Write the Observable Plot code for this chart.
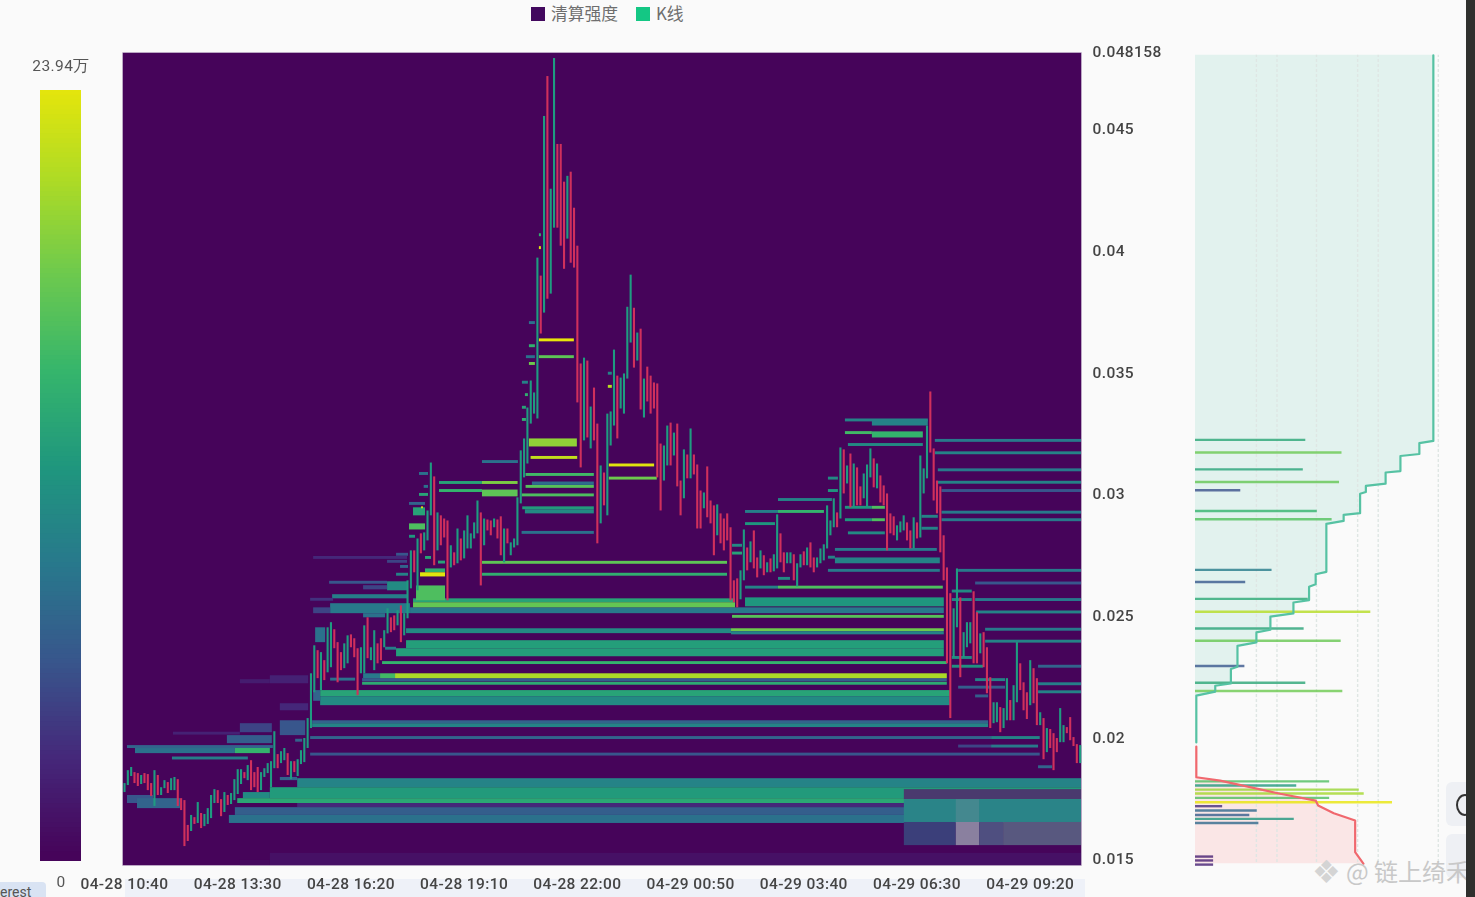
<!DOCTYPE html>
<html lang="zh">
<head>
<meta charset="utf-8">
<script src="https://cdn.jsdelivr.net/npm/d3@7"></script>
<script src="https://cdn.jsdelivr.net/npm/@observablehq/plot@0.6"></script>
<style>
html,body{margin:0;padding:0;background:#fafafa;overflow:hidden}
#page{position:relative;width:1475px;height:897px;overflow:hidden;background:#fafafa;font-family:Roboto,"Noto Sans CJK SC",sans-serif;color:#555}
#page>div{position:absolute}
#chart-holder{left:0;top:0;width:1475px;height:897px}
#side-holder{left:1195px;top:0;width:280px;height:897px}
#scale-holder{left:0;top:0;width:120px;height:897px}
#chart-holder svg,#side-holder svg,#scale-holder svg{display:block;max-width:none;filter:blur(.45px)}
.strip{background:#eef1f8;left:125px;top:879px;width:960px;height:18px}
.chip{background:#d9e3f3;left:-6px;top:882px;width:46px;height:20px;border-radius:4px;font-size:14px;padding-left:6px;line-height:21px;color:#555;overflow:hidden}
.edge{background:#2f302e;left:1466px;top:0;width:9px;height:897px}
.btn{background:#eef0f4;left:1446px;width:30px;height:44px;border-radius:6px}
.leg{font-size:16.8px;top:3px;line-height:20px;color:#6e6e6e;white-space:nowrap;font-family:"Noto Sans CJK SC",sans-serif}
.sw{width:14px;height:14px;top:7px}
.mark{left:1312px;top:854px;font-size:32px;line-height:36px;color:#d4d4d4;font-family:"DejaVu Sans",sans-serif}
.wm{left:1346px;top:856px;font-size:24px;line-height:30px;color:#c8c8c8;white-space:nowrap;font-family:"Noto Sans CJK SC",sans-serif}
</style>
</head>
<body>
<div id="page">
  <div class="strip"></div>
  <div class="chip">erest</div>
  <div id="chart-holder"></div>
  <div id="side-holder"></div>
  <div id="scale-holder"></div>
  <div class="sw" style="left:531px;background:#42085e"></div>
  <div class="leg" style="left:551px">清算强度</div>
  <div class="sw" style="left:636px;background:#14c784"></div>
  <div class="leg" style="left:656px">K线</div>
  <div class="btn" style="top:782px"></div>
  <div class="btn" style="top:834px"></div>
  <div style="left:1456px;top:794px;width:14px;height:18px;border:2px solid #333;border-radius:50%"></div>
  <div class="mark">❖</div>
  <div class="wm">@ 链上绮禾</div>
  <div class="edge"></div>
</div>
<script>
// ---- shared labels ----
const priceTicks = [0.015, 0.02, 0.025, 0.03, 0.035, 0.04, 0.045, 0.048158];
const firstCandle = Date.UTC(2025, 3, 28, 10, 40);
const candleMinutes = 5;
const timeTickCandles = [0, 34, 68, 102, 136, 170, 204, 238, 272];
const maxIntensity = 23.94; // 万

// ---- 5-minute candles, prices in 1e-5 ----
const candleHigh = [
1812,1865,1878,1857,1853,1845,1853,1849,1812,1865,1845,1795,1824,1816,1832,1837,1828,1750,1742,1640,
1681,1672,1734,1689,1685,1709,1763,1787,1783,1746,1775,1763,1771,1828,1869,1869,1857,1886,1906,1857,
1878,1857,1873,1894,1902,2025,1931,1943,1956,1935,1902,1902,1910,1947,1997,2079,2263,2378,2358,2350,
2317,2452,2473,2444,2391,2350,2386,2419,2423,2407,2366,2370,2460,2493,2370,2440,2386,2407,2440,2530,
2493,2501,2522,2542,2510,2645,2768,2768,2817,2838,2842,2932,3129,3072,2924,2912,2899,2891,2789,2760,
2858,2817,2850,2912,2838,2883,2973,2924,2899,2895,2891,2899,2895,2908,2858,2858,2801,2817,2986,3179,
3228,3355,3466,3417,3971,3897,4553,4717,4254,4791,4438,4438,4283,4307,4324,4176,4020,3536,3560,3548,
3359,3437,3289,3117,3088,3330,3339,3593,3486,3478,3495,3769,3901,3765,3663,3679,3474,3523,3486,3458,
3454,3207,3199,3281,3293,3252,3289,3055,3183,3162,3269,3162,3121,3014,3006,3113,2973,2953,2957,2920,
2899,2920,2863,2645,2653,2686,2854,2780,2805,2850,2739,2768,2748,2719,2735,2752,2916,2838,2760,2760,
2760,2752,2715,2752,2764,2780,2801,2739,2739,2776,2793,2953,2891,2982,2924,3191,3183,3117,3166,3125,
3109,3031,3084,3121,3187,3146,3125,3076,3035,3002,2920,2908,2871,2887,2912,2883,2850,2904,2883,3158,
3105,3281,3421,3187,3055,3031,2830,2698,2592,2530,2694,2575,2432,2473,2473,2600,2514,2427,2432,2370,
2247,2144,2144,2124,2120,2243,2153,2214,2391,2304,2226,2185,2317,2284,2243,2103,2079,2038,2034,2017,
1997,2120,2050,2042,2083,2001,1972,1968];
const candleLow = [
1775,1804,1841,1812,1800,1808,1812,1783,1759,1718,1763,1763,1791,1771,1783,1783,1718,1701,1553,1574,
1615,1644,1648,1627,1635,1644,1668,1730,1730,1676,1693,1722,1726,1742,1767,1808,1832,1824,1783,1795,
1775,1783,1837,1853,1795,1873,1873,1894,1906,1845,1828,1857,1841,1890,1898,1956,2038,2185,2243,2194,
2235,2267,2288,2366,2226,2276,2284,2304,2370,2329,2173,2263,2263,2325,2317,2276,2304,2317,2370,2427,
2432,2440,2460,2391,2419,2489,2612,2678,2604,2756,2768,2809,2912,2707,2768,2789,2821,2563,2698,2707,
2715,2727,2735,2776,2776,2817,2838,2624,2789,2850,2830,2863,2817,2748,2719,2797,2748,2780,2789,2961,
3068,3125,3289,3330,3310,3659,3745,3802,3823,4094,4094,4020,3925,4049,3950,3930,3376,3109,3220,3232,
3187,3220,2797,2879,2953,2912,3199,3281,3228,3351,3330,3474,3622,3519,3548,3347,3314,3380,3330,3351,
3068,2932,3055,3117,3117,3158,3031,2912,2982,3064,3064,3080,2858,2858,2941,2904,2879,2748,2830,2797,
2768,2809,2563,2555,2534,2567,2645,2686,2719,2694,2657,2694,2666,2678,2678,2682,2694,2719,2678,2715,
2715,2645,2620,2698,2707,2707,2698,2678,2698,2715,2727,2776,2830,2863,2863,2899,3002,3043,2945,2949,
2953,2953,2982,2949,3068,3027,3023,2965,2953,2768,2838,2830,2809,2842,2850,2809,2776,2776,2817,2821,
3002,3064,3170,2973,2920,2760,2645,2304,2079,2329,2452,2247,2329,2370,2386,2304,2304,2345,2288,2181,
2038,2058,2062,2021,2038,2070,2070,2070,2144,2194,2111,2075,2132,2140,2050,2050,1910,1939,1956,1865,
1939,1980,1980,2017,1988,1964,1894,1894];
const candleDirection = [
"gggrrgrrrg","rggrggrrrr","grgrggggrr","grggggrgrr","rgggggrggr","grggggggrg",
"rggrrrggrr","rggrggrrgg","rrgrgggrgr","gggrgrrrgr","grgggggrgr","rgrrgrgggg",
"gggggrgrgg","rrrgrrrrgr","grrgrgggrg","gggrgrgrrr","rrggrgrrgr","grrrgrrrgr",
"rrrrrggrgr","rgrgrggrrg","grggrgrrgg","ggggrgrgrg","rrgggrgrrr","rrgggrrgrg",
"ggrrrrrrrg","grgggrrgrr","rggrggrggr","rrgrrgrgrr","rggrrrrg"].join("");

// ---- heat bands: [first candle, last candle, high, low, intensity (万)] ----
const lowerBands = [
[43.8,287.4,1525,1475,1.0],[34.8,43.8,1496,1475,.5],
[52,287.4,1832,1795,10.1],[43.8,287.4,1795,1750,12.4],[35.7,43.8,1775,1750,10.8],[34,287.4,1750,1730,13.6],
[52,287.4,1730,1713,2.9],[33.3,287.4,1713,1681,6.7],[31.5,287.4,1681,1648,8.4],
[0.9,8.7,1763,1730,6],[3.9,16.8,1750,1709,7.2],[46.8,52,1837,1824,7.2],
[0.9,44.7,1968,1956,7.2],[3.3,33.3,1956,1935,8.4],[33.3,43.8,1956,1935,14.8],
[30.9,44.4,2009,1976,6.7],[34.8,44.4,2058,2021,4.8],[46.8,54.4,2070,2009,6],[46.8,55.3,2140,2111,2.9],
[43.8,55.3,2255,2222,2.4],[34.8,43.8,2239,2222,2]];
const middleBands = [
[56.5,259.5,2070,2058,7.2],[56.5,259.5,2058,2042,10.1],
[58.9,248,2194,2169,13.2],[58.9,248,2169,2132,10.8],[56.8,58.9,2194,2150,7.2],
[71.5,247.1,2243,2230,6.7],[71.8,76.9,2263,2243,9.1],[76.9,81.4,2263,2243,15.6],[81.4,247.1,2263,2243,20.8],
[84.7,246.2,2399,2366,12.7],[81.7,246.2,2366,2333,12.7],
[84.7,182.3,2448,2428,10.8],[182.3,246.2,2448,2436,18],[182.3,246.2,2436,2423,10],
[85.9,246.2,2534,2510,9.1],[86.8,183.5,2571,2555,13.2],[86.8,183.5,2555,2534,17.5],[186.5,246.2,2575,2538,12],
[87.7,96.4,2624,2563,16.3],[90.4,96.4,2694,2678,14.4],[88.9,96.4,2678,2661,23.5],
[79,85,2641,2604,10.8],[71.8,79,2625,2608,4.8],[62.5,85,2588,2571,9.6],[61.9,85.9,2551,2510,9.1],
[56.8,61.9,2534,2510,4.8],[71.8,78.4,2510,2493,8.4],[57.4,60.4,2452,2391,8.4]];
const upperBands = [
[120.4,141.1,2937,2920,10.8],[119.6,141.1,2949,2937,12.4],[122.5,141.1,3051,3037,7.9],[121.6,136,3228,3195,19.6],
[107.5,118.2,3018,2990,17.2],[86.8,90.4,2945,2912,13.2],[89.2,89.8,2949,2941,23],[85.6,90.4,2879,2854,16.3],
[224.6,241.4,3306,3281,10],[224.6,239.9,3257,3232,14.8],[213.5,245,2739,2715,10]];
// ---- thin levels: [first candle, last candle, price, intensity (万)] ----
const lowerLevels = [
[55.9,275,1931,6],[55.9,260.4,1999,7.2],[260.4,275,1999,10],[250.5,260.4,1964,4.8],[260.4,274.5,1964,9.1],
[274.5,278.7,1879,7.2],[14.4,37.2,1915,9.6],[51.4,53.5,1988,7.2],[14.7,34.8,2017,2.4]];
const middleLevels = [
[71.5,247.1,2222,13.9],[77.5,247.1,2307,14.8],[182.6,246.2,2497,16.8],
[107.5,181.1,2719,17.2],[107.5,181.1,2670,14.4],[119.4,141.1,2842,8.4],[119.4,141.1,2996,16.3],[120.6,141.1,3031,16.8],
[120.6,141.1,3080,15.6],[122.1,136.1,3150,22],[107.5,118.3,3133,8.4],[94.6,107.5,3047,13.2],[107.5,118.2,3047,18.7],
[94.6,107.5,3014,14.8],[88.6,91.3,3084,8.4],[90,91.3,3031,8.4],[88.6,91.3,2998,13.2],[85.6,90.4,2961,7.2],
[85.6,87.4,2826,12],[90.4,92.2,2739,13.2],[94.3,96.4,2720,13.2],[81.7,85.3,2752,6],[56.8,85,2739,2.9],[79,85,2723,4.8],
[82.9,85.3,2702,7.2],[81.7,85.3,2670,10],[61.6,79,2637,6],[55.9,62.8,2567,3.6],[78.4,81.7,2366,9.6],[61.9,69.4,2239,8.4]];
const upperLevels = [
[216.5,241.4,3304,10],[216.5,224.6,3252,15.6],[217.4,239.9,3203,10.8],
[243.5,287.4,3220,9.1],[243.5,287.4,3169,10],[244.4,287.4,3099,9.1],[244.4,287.4,3048,10],[245.5,287.4,3014,6],
[245.5,287.4,2925,9.1],[245.5,287.4,2894,9.1],[196.4,212.6,2977,10],[186.5,196.4,2928,9.6],[196.4,210.2,2928,14.8],
[186.5,195.5,2878,12],[182.6,185.6,2789,10.8],[182.6,185.6,2757,13.2],[196.4,200,2653,10.8],[186.5,196.4,2617,10],
[196.4,245.9,2617,16.3],[211.4,245,2686,9.1],[211.4,213.5,2740,10],[213.5,244.1,2772,9.1],
[216.5,224.6,2945,12],[224.6,228.5,2945,16.3],[216.5,224.6,2894,12],[224.6,228.5,2894,16.3],[217.4,228.5,2840,10.8],
[211.4,214.4,3065,10.8],[211.4,214.4,3014,12],[239.5,244.4,2908,10],[239.5,244.4,2859,10],
[145.6,159.2,3119,23.5],[145.6,160,3065,18],[124.6,135.1,3633,23.9],[124.6,135.1,3564,17.2],
[124.6,125.2,4065,14.4],[124.6,125.2,4012,23.5],[121.6,123.4,3704,8.4],[121.6,123.4,3609,14.4],[120.7,123.4,3564,8.4],
[121.6,123.4,3536,18],[119.5,121.3,3459,10],[120.4,121.3,3408,14.4],[119.5,120.7,3356,13.2],[119.5,120.7,3306,14.4],
[145.3,146.5,3496,10],[145.3,146.5,3442,21.5]];
const fallingLevels = [
[250.5,287.4,2686,9.1],[255.6,287.4,2634,6],[248.6,254.6,2601,10.8],[248.6,254.6,2566,10],[255.6,287.4,2566,9.1],
[255.9,287.4,2515,10],[258.6,287.4,2444,9.1],[258.6,287.4,2395,10],[248.6,254.6,2328,10.8],[248.6,258,2292,11.5],
[274.5,287.4,2292,7.2],[255.6,264.6,2237,10],[274.5,287.4,2220,9.6],[274.5,287.4,2187,10],[250.5,264.6,2206,6.7],
[255.6,259.5,2170,6.7]];
// ---- pixelated patch over the lower right corner ----
const patchTeal = [[234.2,287.4,1746,1652]];
const patchPale = [[249.8,256.8,1746,1652]];
const patchDim = [[234.2,287.4,1787,1746]];
const patchNavy = [[234.2,249.8,1652,1557]];
const patchGrey = [[249.8,256.8,1652,1557]];
const patchSlate = [[256.8,264,1652,1557]];
const patchMuted = [[264,287.4,1652,1557]];

// ---- side panel: [price, intensity (万)] ----
const sideBars = [
[3224,13.4],[3172,17.8],[3103,13.1],[3051,17.5],[3017,5.5],[2932,14.8],[2898,16.6],[2690,9.3],[2640,6.1],[2571,13.7],
[2518,21.3],[2449,13.2],[2399,17.7],[2295,6.0],[2226,13.4],[2192,17.9],[1821,16.3],[1804,12.3],[1787,19.9],[1771,20.5],
[1753,16.3],[1735,23.94],[1719,3.3],[1701,7.5],[1683,6.6],[1667,12.0],[1650,7.7],[1512,2.2],[1496,2.2],[1479,2.2]];
const shortCumulative = [
[4804,28.9],[3220,28.9],[3211,27.2],[3166,27.2],[3158,24.9],[3096,24.9],[3090,23.1],[3044,23.1],[3035,20.7],[3010,20.7],
[3003,20.0],[2923,20.0],[2916,18.0],[2891,18.0],[2879,15.9],[2682,15.9],[2672,14.6],[2631,14.6],[2621,13.8],[2566,13.8],
[2556,11.9],[2511,11.9],[2498,9.1],[2444,9.1],[2433,7.4],[2392,7.4],[2378,5.1],[2292,5.1],[2283,4.3],[2223,4.3],
[2214,2.4],[2190,2.4],[2173,0.1],[1981,0.1]];
const longCumulative = [
[1964,0.1],[1838,0.1],[1824,3.0],[1770,10.3],[1742,14.6],[1722,14.9],[1690,16.8],[1660,19.4],[1530,19.4],[1483,20.4]];
const sideGrid = [7.4, 9.9, 14.7, 19.7, 22.2, 29.5];

// ---- colour ramp of the heat map ----
const rampColors = ["#46045a","#45287a","#38568c","#28788c","#1f967e","#35b56c","#6cc94e","#aedb25","#e9e60a"];
const ramp = d3.piecewise(d3.interpolateRgb, rampColors);
const colorScale = {type:"linear", domain:[0, maxIntensity], interpolate:ramp};

// ---- tables ----
const at = i => new Date(firstCandle + i * candleMinutes * 60000);
const candles = candleHigh.map((h,i) => ({time:at(i), high:h/1e5, low:candleLow[i]/1e5, up:candleDirection[i] === "g"}));
const wide = r => ({x1:at(r[0]), x2:at(r[1]), y1:r[3]/1e5, y2:r[2]/1e5, v:r[4]});
const thin = r => ({x1:at(r[0]), x2:at(r[1]), y1:(r[2]-6)/1e5, y2:(r[2]+6)/1e5, v:r[3]});
const heat = [...lowerBands.map(wide), ...lowerLevels.map(thin), ...middleBands.map(wide), ...middleLevels.map(thin),
              ...upperBands.map(wide), ...upperLevels.map(thin), ...fallingLevels.map(thin)];
const patch = (rows, color) => Plot.rect(rows.map(r => wide([...r,0])), {x1:"x1", x2:"x2", y1:"y1", y2:"y2", fill:color});

const priceDomain = [0.014753, 0.048158];
const fmt = d3.utcFormat("%m-%d %H:%M");
const labelStyle = {fontFamily:"Roboto, sans-serif", fontSize:"15.5px", fontWeight:500, letterSpacing:".4px", color:"#444", background:"transparent"};

// ---- main chart ----
const main = Plot.plot({
  width:1475, height:897, marginLeft:122, marginRight:394, marginTop:52, marginBottom:32,
  style:labelStyle,
  x:{type:"utc", domain:[at(-0.6), at(287.4)], label:null},
  y:{domain:priceDomain, label:null},
  color:colorScale,
  marks:[
    Plot.frame({fill:"#46045a", stroke:"#d8cfe0", strokeWidth:.5}),
    Plot.rect(heat, {x1:"x1", x2:"x2", y1:"y1", y2:"y2", fill:"v"}),
    patch(patchDim,"#4a3a6e"), patch(patchTeal,"#2a8488"), patch(patchPale,"#44888f"),
    patch(patchNavy,"#3b3f7a"), patch(patchGrey,"#8a809f"), patch(patchSlate,"#4f4f80"), patch(patchMuted,"#58587f"),
    Plot.ruleX(candles.filter(d => d.up), {x:"time", y1:"low", y2:"high", stroke:"#1f9c80", strokeWidth:2.1}),
    Plot.ruleX(candles.filter(d => !d.up), {x:"time", y1:"low", y2:"high", stroke:"#d0305c", strokeWidth:2.1}),
    Plot.axisX({ticks:timeTickCandles.map(at), tickFormat:fmt, tickSize:0, tickPadding:12, label:null}),
    Plot.axisY({anchor:"right", ticks:priceTicks, tickFormat:String, tickSize:0, tickPadding:11, label:null})
  ]
});
document.getElementById("chart-holder").append(main);

// ---- side panel ----
const row = r => ({p:r[0]/1e5, v:r[1]});
const side = Plot.plot({
  width:280, height:897, marginLeft:0, marginRight:41, marginTop:52, marginBottom:32,
  style:{background:"transparent", overflow:"visible"},
  x:{domain:[0,29.04], axis:null},
  y:{domain:priceDomain, axis:null},
  color:colorScale,
  marks:[
    Plot.areaX(shortCumulative.map(row), {x1:0, x2:"v", y:"p", fill:"#e2f2ee"}),
    Plot.areaX(longCumulative.map(row), {x1:0, x2:"v", y:"p", fill:"#fae6e6"}),
    Plot.ruleX(sideGrid, {x:d => d, y1:priceDomain[0]+0.00012, y2:0.04804, stroke:"#dfe6e4", strokeWidth:1.4, strokeDasharray:"3 2"}),
    Plot.ruleY(sideBars.map(row), {x1:0, x2:"v", y:"p", stroke:"v", strokeWidth:2.4, strokeOpacity:.8}),
    Plot.line(shortCumulative.map(row), {x:"v", y:"p", stroke:"#56c2a3", strokeWidth:2.2}),
    Plot.line(longCumulative.map(row), {x:"v", y:"p", stroke:"#f0686e", strokeWidth:2.2})
  ]
});
document.getElementById("side-holder").append(side);

// ---- colour bar ----
const barStep = maxIntensity / 160;
const barLevels = d3.range(0, maxIntensity - barStep / 2, barStep);
const scaleBar = Plot.plot({
  width:120, height:897, marginLeft:40, marginRight:39, marginTop:90, marginBottom:36,
  style:{...labelStyle, fontWeight:400, overflow:"visible"},
  x:{domain:[0,1], axis:null},
  y:{domain:[0,maxIntensity], axis:null},
  color:colorScale,
  marks:[
    Plot.rect(barLevels, {x1:0, x2:1, y1:d => d, y2:d => Math.min(d + barStep * 2, maxIntensity), fill:d => d, reverse:true}),
    Plot.text(["23.94万"], {frameAnchor:"top", dy:-31, fill:"#555"}),
    Plot.text(["0"], {frameAnchor:"bottom", dy:25, fill:"#555"})
  ]
});
document.getElementById("scale-holder").append(scaleBar);
</script>
</body>
</html>
